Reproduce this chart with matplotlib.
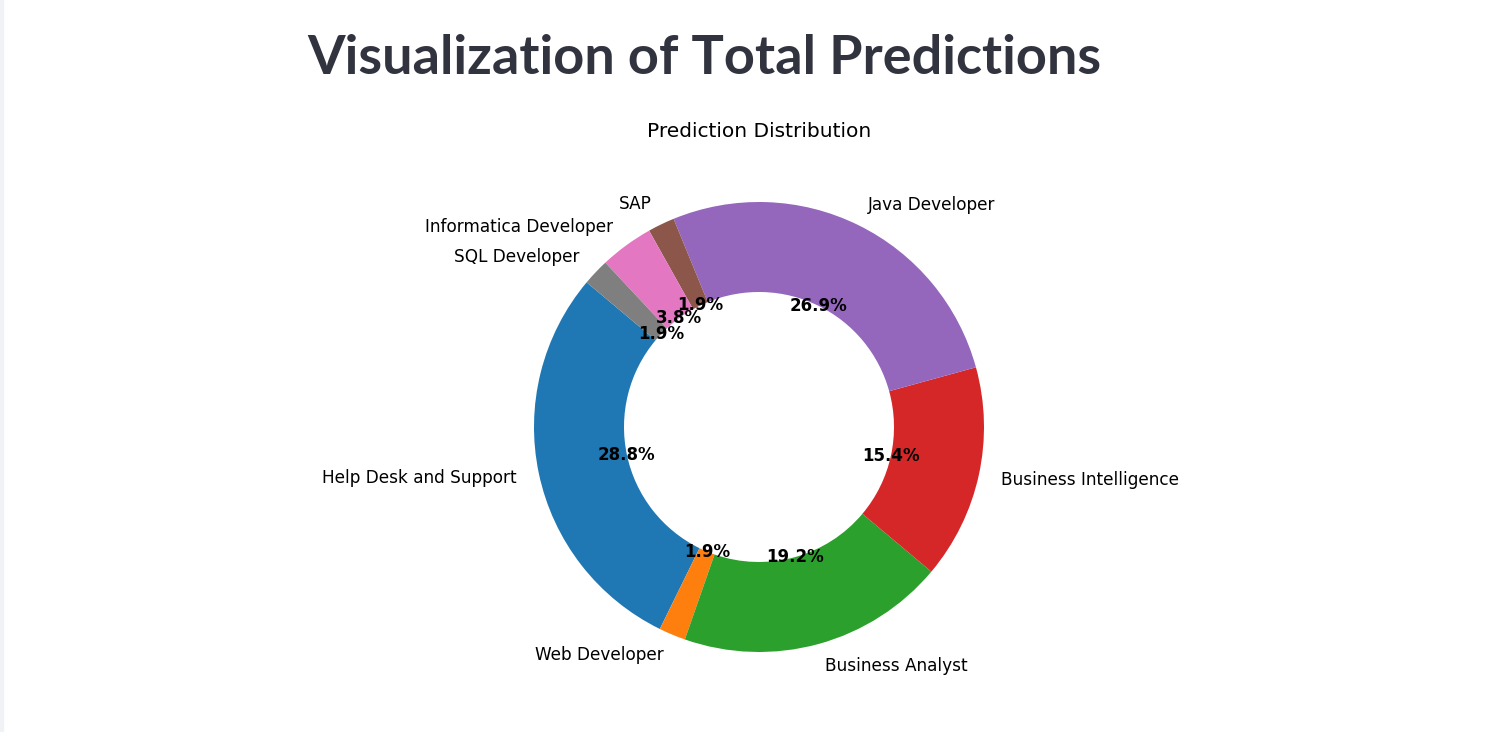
import matplotlib
matplotlib.use("Agg")
import matplotlib.pyplot as plt
from matplotlib.patches import Rectangle

# prediction counts per role
labels = ['Help Desk and Support', 'Web Developer', 'Business Analyst',
          'Business Intelligence', 'Java Developer', 'SAP',
          'Informatica Developer', 'SQL Developer']
counts = [15, 1, 10, 8, 14, 1, 2, 1]

W, H = 1485, 732
fig = plt.figure(figsize=(W / 100, H / 100), dpi=100)

# thin sidebar edge on the left
fig.patches.append(Rectangle((0, 0), 3 / W, 1, transform=fig.transFigure,
                             color='#f0f2f6', zorder=0))

fig.text(704.5 / W, 1 - 59 / H, 'Visualization of Total Predictions',
         ha='center', va='center', fontsize=39, fontweight='bold',
         family='Lato', color='#31333F')

# pie centre at (759, 427) px, radius 225 px
R = 225
cx, cy = 759, H - 427
ax = fig.add_axes([(cx - 1.25 * R) / W, (cy - 1.25 * R) / H, 2.5 * R / W, 2.5 * R / H])
wedges, texts, autotexts = ax.pie(counts, labels=labels, autopct='%1.1f%%',
                                  startangle=140, wedgeprops=dict(width=0.4),
                                  textprops=dict(fontsize=12.2))
for t in autotexts:
    t.set_fontweight('bold')
    t.set_fontsize(12)
ax.set_xlim(-1.25, 1.25)
ax.set_ylim(-1.25, 1.25)
ax.set_aspect('equal')
ax.set_title('Prediction Distribution', fontsize=14.5)

fig.savefig('out.png', dpi=100)
